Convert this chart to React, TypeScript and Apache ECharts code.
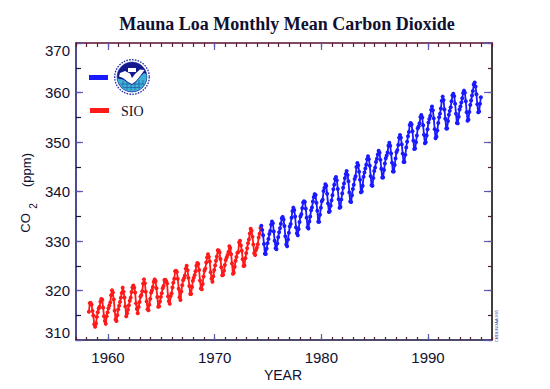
import React, { useEffect, useRef } from "react";
import * as echarts from "echarts";

// Monthly mean CO2 (ppm) at Mauna Loa
const sioStart = { year: 1958, month: 3 }; // SIO record, March 1958 - April 1974
const sioCo2 = [
  315.71, 317.45, 317.5, 317.1, 315.86, 314.93, 313.2, 312.66, 313.33, 314.67,
  315.62, 316.38, 316.71, 317.72, 318.29, 318.15, 316.54, 314.8, 313.84, 313.26, 314.8, 315.58,
  316.43, 316.97, 317.58, 319.02, 320.03, 319.59, 318.18, 315.91, 314.16, 313.83, 315.0, 316.19,
  316.93, 317.7, 318.54, 319.48, 320.58, 319.77, 318.57, 316.79, 314.8, 315.38, 316.1, 317.01,
  317.94, 318.56, 319.68, 320.63, 321.01, 320.55, 319.58, 317.4, 316.26, 315.42, 316.69, 317.69,
  318.74, 319.08, 319.86, 321.39, 322.25, 321.47, 319.74, 317.77, 316.21, 315.99, 317.12, 318.31,
  319.57, 320.07, 320.73, 321.77, 322.25, 321.89, 320.44, 318.7, 316.7, 316.79, 317.79, 318.71,
  319.44, 320.44, 320.89, 322.13, 322.16, 321.87, 321.39, 318.81, 317.81, 317.3, 318.87, 319.42,
  320.62, 321.59, 322.39, 323.87, 324.01, 323.75, 322.39, 320.37, 318.64, 318.1, 319.79, 321.08,
  322.07, 322.5, 323.04, 324.42, 325.0, 324.09, 322.55, 320.92, 319.31, 319.31, 320.72, 321.96,
  322.57, 323.15, 323.89, 325.02, 325.57, 325.36, 324.14, 322.03, 320.41, 320.25, 321.31, 322.84,
  324.0, 324.42, 325.64, 326.66, 327.34, 326.76, 325.88, 323.67, 322.38, 321.78, 322.85, 324.12,
  325.03, 325.99, 326.87, 328.13, 328.07, 327.66, 326.35, 324.69, 323.1, 323.16, 323.98, 325.13,
  326.17, 326.68, 327.18, 327.78, 328.92, 328.57, 327.34, 325.46, 323.36, 323.57, 324.8, 326.01,
  326.77, 327.63, 327.75, 329.72, 330.07, 329.09, 328.05, 326.32, 324.93, 325.06, 326.5, 327.55,
  328.54, 329.56, 330.3, 331.5, 332.48, 332.07, 330.87, 329.31, 327.51, 327.18, 328.16, 328.64,
  329.35, 330.71, 331.48, 332.65,
];

const noaaStart = { year: 1974, month: 5 }; // NOAA record, May 1974 - December 1994
const noaaCo2 = [
  333.09, 332.25, 331.18, 329.4, 327.43, 327.37, 328.46, 329.57,
  330.4, 331.4, 332.04, 333.31, 333.96, 333.59, 331.91, 330.06, 328.56, 328.34, 329.49, 330.76,
  331.75, 332.56, 333.5, 334.58, 334.87, 334.34, 333.05, 330.94, 329.3, 328.94, 330.31, 331.68,
  332.93, 333.42, 334.7, 336.07, 336.74, 336.27, 334.93, 332.75, 331.58, 331.16, 332.4, 333.85,
  334.97, 335.39, 336.64, 337.76, 338.01, 337.89, 336.54, 334.68, 332.76, 332.54, 333.92, 334.95,
  336.23, 336.76, 337.96, 338.89, 339.47, 339.29, 337.73, 336.09, 333.91, 333.86, 335.29, 336.73,
  338.01, 338.36, 340.08, 340.77, 341.46, 341.17, 339.56, 337.6, 335.88, 336.01, 337.1, 338.21,
  339.23, 340.47, 341.38, 342.51, 342.91, 342.25, 340.49, 338.43, 336.69, 336.85, 338.36, 339.61,
  340.75, 341.61, 342.7, 343.56, 344.13, 343.35, 342.06, 339.82, 337.97, 337.86, 339.26, 340.49,
  341.38, 342.52, 343.1, 344.94, 345.75, 345.32, 343.99, 342.39, 339.86, 339.99, 341.16, 342.99,
  343.82, 344.63, 345.39, 346.54, 347.13, 346.54, 345.21, 343.1, 341.25, 341.14, 342.7, 344.15,
  344.82, 345.97, 346.64, 347.47, 348.22, 347.81, 346.39, 344.59, 342.82, 342.84, 344.34, 345.65,
  346.73, 347.28, 347.9, 349.26, 349.86, 349.26, 347.67, 345.83, 344.05, 344.02, 345.35, 346.69,
  347.95, 348.36, 349.41, 350.84, 351.42, 350.85, 349.52, 347.65, 345.94, 345.97, 347.4, 348.87,
  350.03, 351.18, 352.04, 353.42, 353.82, 353.52, 352.19, 350.28, 348.57, 348.67, 349.94, 351.32,
  352.79, 353.17, 353.79, 355.03, 355.45, 354.94, 353.37, 351.45, 349.74, 349.93, 351.31, 352.59,
  353.92, 354.65, 355.27, 356.49, 357.17, 356.4, 354.77, 352.6, 350.76, 351.07, 352.33, 353.85,
  354.98, 355.73, 356.75, 358.35, 359.17, 358.47, 356.55, 354.68, 352.73, 352.73, 354.22, 355.5,
  356.29, 357.02, 358.22, 359.42, 359.73, 359.27, 357.75, 355.71, 353.82, 353.76, 355.11, 356.57,
  357.17, 357.97, 358.82, 359.9, 360.38, 359.94, 358.23, 356.02, 354.29, 354.52, 356.07, 357.48,
  358.38, 359.39, 360.31, 361.6, 362.01, 361.2, 359.64, 357.62, 355.99, 356.14, 357.72, 359.06,
];

const yearTickLabels = [1960, 1970, 1980, 1990];
const co2TickLabels = [310, 320, 330, 340, 350, 360, 370];

const titleText = "Mauna Loa Monthly Mean Carbon Dioxide";
const xAxisTitle = "YEAR";
const legendSio = "SIO";

function toPoints(start: { year: number; month: number }, values: number[]) {
  return values.map((v, i) => {
    const m = start.month - 1 + i;
    return [start.year + (m + 0.5) / 12, v];
  });
}

const AXIS_DARK = "#14143c";
const TICK_MINOR = "#5c1838";
const TICK_MAJOR = "#5a5ab4";
const LABEL_COLOR = "#101030";
const SANS = "Liberation Sans, Arial, sans-serif";
const SERIF = "Liberation Serif, Times New Roman, serif";

function buildLogo(cx: number, cy: number) {
  const circlePts = (r: number, a0: number, a1: number, n: number) => {
    const pts: number[][] = [];
    for (let k = 0; k <= n; k++) {
      const a = a0 + ((a1 - a0) * k) / n;
      pts.push([cx + r * Math.cos(a), cy + r * Math.sin(a)]);
    }
    return pts;
  };
  const lowerArc = circlePts(14.6, (-12 * Math.PI) / 180, (188 * Math.PI) / 180, 24);
  const waveTop = [
    [-14.3, 1.5], [-9, 2.5], [-4, 6], [0, 8], [4, 5], [8, 0], [12, -4], [14.3, -3],
  ].map(([x, y]) => [cx + x, cy + y]);
  const cyanPoly = lowerArc.concat(waveTop);
  const bird = [
    [-12, -4], [-7, -6], [-2, -3.5], [0, 1], [3, -3], [8, -7.5], [12.5, -7], [8.5, -1.5],
    [4, 4], [0, 7], [-4, 5], [-9, 1], [-13, -0.5],
  ].map(([x, y]) => [cx + x, cy + y]);
  const gridLines: any[] = [];
  const vx = [-9, -5, -1, 3, 7, 11];
  vx.forEach((x) => {
    const yb = Math.sqrt(Math.max(0, 14 * 14 - x * x));
    const yt = x < 0 ? 3 + (9 + x) * 0.5 : 8 - x;
    if (yb > yt + 1)
      gridLines.push({ type: "line", shape: { x1: cx + x, y1: cy + Math.max(yt, 2) + 1, x2: cx + x, y2: cy + yb - 0.5 }, style: { stroke: "#1a4aa0", lineWidth: 0.6 } });
  });
  [7, 10.5].forEach((y) => {
    const xw = Math.sqrt(Math.max(0, 14 * 14 - y * y));
    gridLines.push({ type: "line", shape: { x1: cx - xw + 0.5, y1: cy + y, x2: cx + xw - 0.5, y2: cy + y }, style: { stroke: "#1a4aa0", lineWidth: 0.6 } });
  });
  return {
    type: "group",
    children: [
      { type: "circle", shape: { cx, cy, r: 17.3 }, style: { fill: "#ffffff", stroke: "#1a2aa8", lineWidth: 1.3, lineDash: [1.6, 1.2] } },
      { type: "circle", shape: { cx, cy, r: 15 }, style: { fill: "#121a8e", stroke: "#121a8e", lineWidth: 0.5 } },
      { type: "polygon", shape: { points: cyanPoly }, style: { fill: "#3eb2d6" } },
      ...gridLines,
      { type: "polygon", shape: { points: bird }, style: { fill: "#ffffff" } },
      { type: "rect", shape: { x: cx - 4, y: cy - 9, width: 8, height: 4 }, style: { fill: "#ffffff" } },
    ],
  };
}

export default function App() {
  const ref = useRef<HTMLDivElement>(null);

  useEffect(() => {
    if (!ref.current) return;
    const chart = echarts.init(ref.current, undefined, { renderer: "svg" });

    const xBase = { type: "value", min: 1957, max: 1996, splitLine: { show: false }, gridIndex: 0 };
    const yBase = { type: "value", min: 310, max: 370, splitLine: { show: false }, gridIndex: 0 };

    const option: any = {
      animation: false,
      backgroundColor: "#ffffff",
      grid: { left: 76, right: 58, top: 43, bottom: 49, containLabel: false },
      xAxis: [
        {
          ...xBase,
          position: "bottom",
          interval: 1,
          axisLine: { show: true, lineStyle: { color: AXIS_DARK, width: 1.5 } },
          axisTick: { show: true, inside: true, length: 3, lineStyle: { color: TICK_MINOR, width: 1.2 } },
          axisLabel: {
            show: true,
            margin: 10,
            fontSize: 15,
            fontFamily: SANS,
            color: LABEL_COLOR,
            formatter: (v: number) => (yearTickLabels.includes(Math.round(v)) ? String(Math.round(v)) : ""),
          },
        },
        {
          ...xBase,
          position: "bottom",
          axisLine: { show: false },
          axisTick: { show: true, inside: true, length: 6, customValues: yearTickLabels, lineStyle: { color: TICK_MAJOR, width: 1.2 } },
          axisLabel: { show: false, customValues: yearTickLabels },
        },
        {
          ...xBase,
          position: "top",
          interval: 1,
          axisLine: { show: true, lineStyle: { color: "#5a1030", width: 1.5 } },
          axisTick: { show: true, inside: true, length: 4, lineStyle: { color: TICK_MINOR, width: 1.2 } },
          axisLabel: { show: false },
        },
        {
          ...xBase,
          position: "top",
          axisLine: { show: false },
          axisTick: { show: true, inside: true, length: 7, customValues: yearTickLabels, lineStyle: { color: TICK_MAJOR, width: 1.2 } },
          axisLabel: { show: false, customValues: yearTickLabels },
        },
      ],
      yAxis: [
        {
          ...yBase,
          position: "left",
          interval: 5,
          axisLine: { show: true, lineStyle: { color: "#10106a", width: 1.5 } },
          axisTick: { show: true, inside: true, length: 5, lineStyle: { color: AXIS_DARK, width: 1.2 } },
          axisLabel: {
            show: true,
            margin: 6,
            fontSize: 15,
            fontFamily: SANS,
            color: LABEL_COLOR,
            verticalAlignMaxLabel: "top",
            verticalAlignMinLabel: "bottom",
            formatter: (v: number) => (co2TickLabels.includes(Math.round(v)) ? String(Math.round(v)) : ""),
          },
        },
        {
          ...yBase,
          position: "left",
          interval: 10,
          axisLine: { show: false },
          axisTick: { show: true, inside: true, length: 7, lineStyle: { color: TICK_MAJOR, width: 1.2 } },
          axisLabel: { show: false },
        },
        {
          ...yBase,
          position: "right",
          interval: 5,
          axisLine: { show: true, lineStyle: { color: "#000000", width: 1.5 } },
          axisTick: { show: true, inside: true, length: 4, lineStyle: { color: TICK_MINOR, width: 1.2 } },
          axisLabel: { show: false },
        },
        {
          ...yBase,
          position: "right",
          interval: 10,
          axisLine: { show: false },
          axisTick: { show: true, inside: true, length: 8, lineStyle: { color: TICK_MAJOR, width: 1.2 } },
          axisLabel: { show: false },
        },
      ],
      series: [
        {
          name: "SIO",
          type: "line",
          xAxisIndex: 0,
          yAxisIndex: 0,
          data: toPoints(sioStart, sioCo2),
          symbol: "circle",
          symbolSize: 4,
          lineStyle: { color: "#ff1a1a", width: 1.8 },
          itemStyle: { color: "#ff1a1a" },
        },
        {
          name: "NOAA",
          type: "line",
          xAxisIndex: 0,
          yAxisIndex: 0,
          data: toPoints(noaaStart, noaaCo2),
          symbol: "circle",
          symbolSize: 4,
          lineStyle: { color: "#1a1aff", width: 1.8 },
          itemStyle: { color: "#1a1aff" },
        },
      ],
      graphic: [
        {
          type: "text",
          x: 287,
          y: 24,
          style: { text: titleText, font: `bold 18px ${SERIF}`, fill: "#101030", align: "center", verticalAlign: "middle" },
        },
        {
          type: "text",
          x: 283,
          y: 375,
          style: { text: xAxisTitle, font: `14px ${SANS}`, fill: LABEL_COLOR, align: "center", verticalAlign: "middle" },
        },
        {
          type: "text",
          x: 25,
          y: 223,
          rotation: Math.PI / 2,
          style: { text: "CO", font: `13px ${SANS}`, fill: LABEL_COLOR, align: "center", verticalAlign: "middle" },
        },
        {
          type: "text",
          x: 33,
          y: 206,
          rotation: Math.PI / 2,
          style: { text: "2", font: `10px ${SANS}`, fill: LABEL_COLOR, align: "center", verticalAlign: "middle" },
        },
        {
          type: "text",
          x: 26,
          y: 170,
          rotation: Math.PI / 2,
          style: { text: "(ppm)", font: `13px ${SANS}`, fill: LABEL_COLOR, align: "center", verticalAlign: "middle" },
        },
        { type: "rect", shape: { x: 89, y: 75, width: 19, height: 5 }, style: { fill: "#1a1aff" } },
        buildLogo(132, 77),
        { type: "rect", shape: { x: 90, y: 108, width: 19, height: 5 }, style: { fill: "#ff1a1a" } },
        {
          type: "text",
          x: 121,
          y: 111,
          style: { text: legendSio, font: `14px ${SERIF}`, fill: "#101030", align: "left", verticalAlign: "middle" },
        },
        {
          type: "text",
          x: 496,
          y: 326,
          rotation: Math.PI / 2,
          style: { text: "CMDL/NOAA 9/95", font: `4px ${SANS}`, fill: "#3a3aa0", align: "center", verticalAlign: "middle" },
        },
      ],
    };

    chart.setOption(option);
    return () => chart.dispose();
  }, []);

  return (
    <div
      ref={ref}
      style={{ position: "fixed", left: 0, top: 0, width: 550, height: 389, background: "#ffffff" }}
    />
  );
}
